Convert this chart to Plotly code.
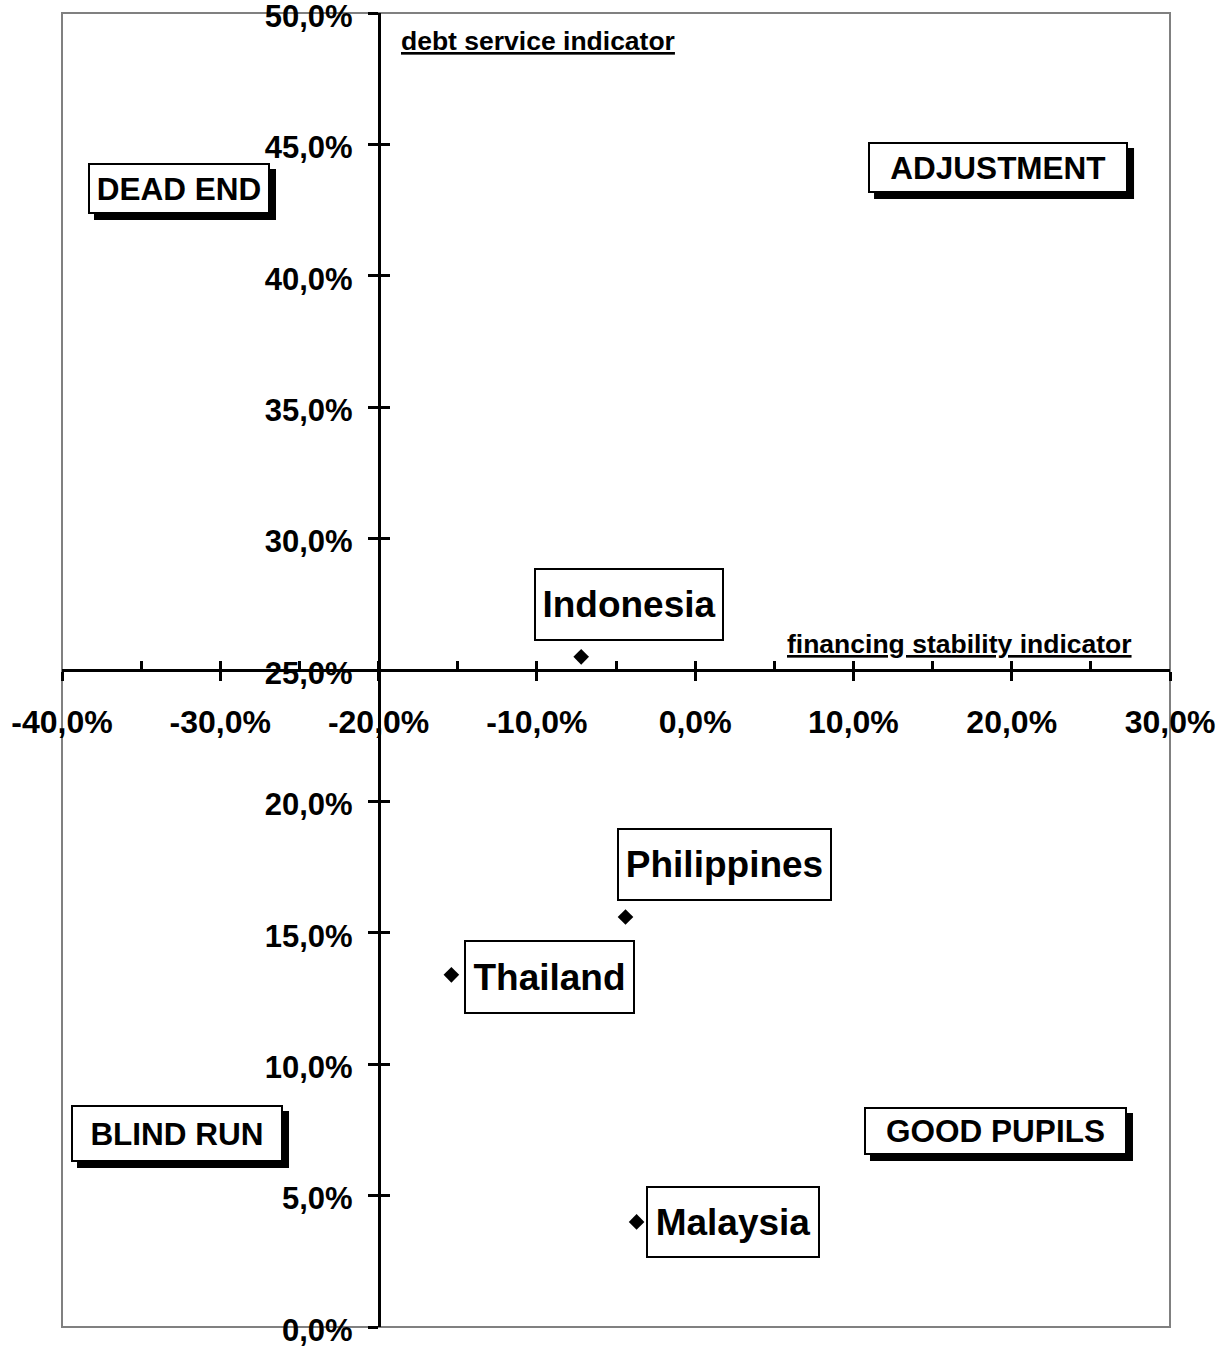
import plotly.graph_objects as go

# ---- data -------------------------------------------------------------
countries = ["Indonesia", "Philippines", "Thailand", "Malaysia"]
financing_stability = [-7.2, -4.4, -15.4, -3.7]   # horizontal indicator, %
debt_service = [25.5, 15.6, 13.4, 4.0]            # vertical indicator, %

x_range = [-40, 30]
y_range = [0, 50]
x_cross = 25      # x axis drawn at this debt-service level
y_cross = -20     # y axis drawn at this financing-stability level

x_tick_values = [-40, -30, -20, -10, 0, 10, 20, 30]
x_minor_values = [-40, -35, -30, -25, -20, -15, -10, -5, 0, 5, 10, 15, 20, 25, 30]
y_tick_values = [0, 5, 10, 15, 20, 25, 30, 35, 40, 45, 50]

quadrant_names = ["DEAD END", "ADJUSTMENT", "BLIND RUN", "GOOD PUPILS"]
x_title = "financing stability indicator"
y_title = "debt service indicator"


def pct_label(v):
    return f"{v:.1f}".replace(".", ",") + "%"


x_tick_text = [pct_label(v) for v in x_tick_values]
y_tick_text = [pct_label(v) for v in y_tick_values]

# ---- styling ----------------------------------------------------------
FONT = "Liberation Sans, Arial, sans-serif"
AX_W = 2.5
SHADOW = 6  # drop-shadow offset of the quadrant captions, px

# offset (px) of each data label box from its point, and box size
label_style = {
    "Indonesia":   dict(dx=48, dy=52, w=190, h=73),
    "Philippines": dict(dx=99, dy=53, w=215, h=73),
    "Thailand":    dict(dx=98, dy=-2, w=171, h=74),
    "Malaysia":    dict(dx=96, dy=0, w=174, h=72),
}

# quadrant caption boxes (centres) in paper coordinates
quadrant_style = {
    "DEAD END":    dict(x=0.1056, y=0.8664, w=182, h=51),
    "ADJUSTMENT":  dict(x=0.8448, y=0.8824, w=260, h=51),
    "BLIND RUN":   dict(x=0.1038, y=0.1473, w=212, h=57),
    "GOOD PUPILS": dict(x=0.8425, y=0.1492, w=263, h=48),
}

fig = go.Figure()

fig.add_trace(go.Scatter(
    x=financing_stability, y=debt_service, mode="markers",
    marker=dict(symbol="diamond", size=12, color="black"),
    showlegend=False, hoverinfo="skip",
))
# companion trace so the overlay axes (inner tick marks) are drawn
fig.add_trace(go.Scatter(x=[], y=[], xaxis="x2", yaxis="y2",
                         showlegend=False, hoverinfo="skip"))

y_pos = (y_cross - x_range[0]) / (x_range[1] - x_range[0])
x_pos = (x_cross - y_range[0]) / (y_range[1] - y_range[0])
x_tick_font = dict(family=FONT, size=32, color="black", weight="bold")
y_tick_font = dict(family=FONT, size=31, color="black", weight="bold")

shapes = [dict(type="rect", xref="paper", yref="paper", x0=0, y0=0,
               x1=1, y1=1, line=dict(color="#808080", width=2),
               layer="below")]

annotations = []
for name, xv, yv in zip(countries, financing_stability, debt_service):
    s = label_style[name]
    annotations.append(dict(
        x=xv, y=yv, xref="x", yref="y", text=name, showarrow=False,
        xanchor="center", yanchor="middle",
        xshift=s["dx"], yshift=s["dy"], width=s["w"] - 4, height=s["h"] - 4,
        bgcolor="white", bordercolor="black", borderwidth=2, borderpad=0,
        font=dict(family=FONT, size=37, color="black", weight="bold"),
    ))

for name in quadrant_names:
    s = quadrant_style[name]
    # drop shadow behind the caption box
    shapes.append(dict(
        type="rect", xref="paper", yref="paper",
        xsizemode="pixel", ysizemode="pixel",
        xanchor=s["x"], yanchor=s["y"],
        x0=-s["w"] / 2 + SHADOW, x1=s["w"] / 2 + SHADOW,
        y0=-s["h"] / 2 - SHADOW, y1=s["h"] / 2 - SHADOW,
        fillcolor="black", line=dict(width=0), layer="above",
    ))
    annotations.append(dict(
        x=s["x"], y=s["y"], xref="paper", yref="paper", text=name,
        xanchor="center", yanchor="middle", showarrow=False,
        width=s["w"] - 4, height=s["h"] - 4,
        bgcolor="white", bordercolor="black", borderwidth=2, borderpad=0,
        font=dict(family=FONT, size=31.5, color="black", weight="bold"),
    ))

annotations.append(dict(
    x=0.3041, y=0.9787, xref="paper", yref="paper", xanchor="left",
    yanchor="middle", showarrow=False, text=f"<u>{y_title}</u>",
    font=dict(family=FONT, size=26.5, color="black", weight="bold"),
))
annotations.append(dict(
    x=0.9675, y=0.5198, xref="paper", yref="paper", xanchor="right",
    yanchor="middle", showarrow=False, text=f"<u>{x_title}</u>",
    font=dict(family=FONT, size=26.5, color="black", weight="bold"),
))

fig.update_layout(
    width=1226, height=1347,
    margin=dict(l=62, r=56, t=13, b=20),
    paper_bgcolor="white", plot_bgcolor="white",
    showlegend=False,
    xaxis=dict(
        range=x_range, domain=[0, 1], anchor="free", position=x_pos,
        showline=True, linecolor="black", linewidth=AX_W,
        ticks="outside", ticklen=9, tickwidth=AX_W, tickcolor="black",
        tickvals=x_tick_values, ticktext=x_tick_text, tickfont=x_tick_font,
        ticklabelstandoff=14, ticklabeloverflow="allow",
        showgrid=False, zeroline=False, automargin=False, fixedrange=True,
    ),
    xaxis2=dict(
        range=x_range, overlaying="x", anchor="free", position=x_pos,
        showline=False, ticks="inside", ticklen=9, tickwidth=AX_W,
        tickcolor="black", tickvals=x_minor_values, showticklabels=False,
        showgrid=False, zeroline=False, automargin=False, fixedrange=True,
    ),
    yaxis=dict(
        range=y_range, domain=[0, 1], anchor="free", position=y_pos,
        showline=True, linecolor="black", linewidth=AX_W,
        ticks="outside", ticklen=10, tickwidth=AX_W, tickcolor="black",
        tickvals=y_tick_values, ticktext=y_tick_text, tickfont=y_tick_font,
        ticklabelstandoff=9, ticklabelshift=3, ticklabeloverflow="allow",
        showgrid=False, zeroline=False, automargin=False, fixedrange=True,
    ),
    yaxis2=dict(
        range=y_range, overlaying="y", anchor="free", position=y_pos,
        side="left", showline=False, ticks="inside", ticklen=10,
        tickwidth=AX_W, tickcolor="black", tickvals=y_tick_values,
        showticklabels=False, showgrid=False, zeroline=False,
        automargin=False, fixedrange=True,
    ),
    shapes=shapes,
    annotations=annotations,
)

fig.write_html("out.html", config={"displayModeBar": False})
